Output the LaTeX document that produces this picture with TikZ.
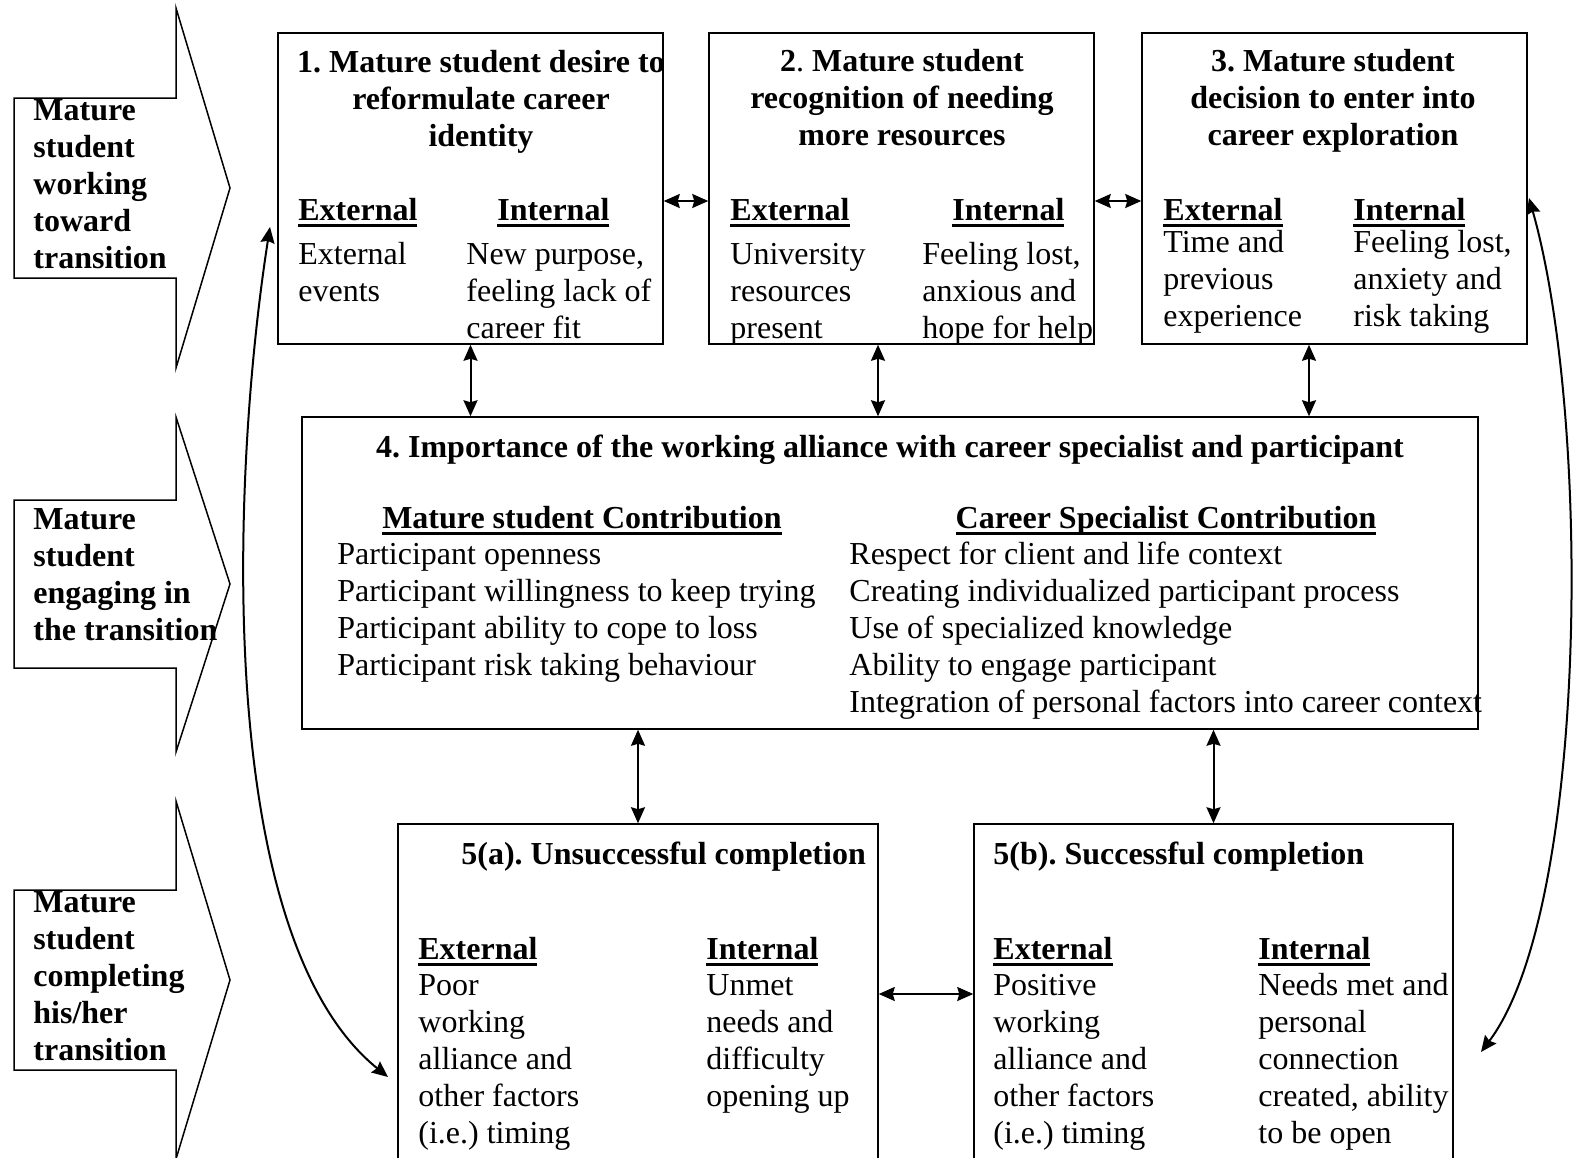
\documentclass[tikz,border=0pt]{standalone}
\usepackage{fontspec}
\setmainfont{Liberation Serif}
\usetikzlibrary{arrows.meta,fit}
\frenchspacing

% left-aligned and centred stacks of lines, first baseline on the anchor
\newcommand\lstack[1]{\begin{tabular}[t]{@{}l@{}}#1\end{tabular}}
\newcommand\cstack[1]{\begin{tabular}[t]{@{}c@{}}#1\end{tabular}}
% heavy underline for column headings
\newcommand\hul[1]{\setbox0\hbox{#1}\rlap{\rule[-3.4pt]{\wd0}{1.3pt}}\box0}

\tikzset{
  txt/.style={inner sep=0pt, font=\fontsize{16}{18.5}\selectfont, anchor=base west},
  bold/.style={txt, font=\fontsize{16}{18.5}\selectfont\bfseries},
  ctitle/.style={bold, anchor=base},
  box/.style={draw, line width=0.75pt, inner sep=0pt},
  blockarrow/.style={draw, line width=0.75pt, line join=miter},
  link/.style={line width=1pt, {Stealth[length=8pt,width=7pt,inset=1pt]}-{Stealth[length=8pt,width=7pt,inset=1pt]}}
}

\begin{document}
\begin{tikzpicture}[x=0.5pt,y=-0.5pt]
\useasboundingbox (0,0) rectangle (1574,1157);
\clip (0,0) rectangle (1574,1157);

% ---- stage arrows on the left ----
\draw[blockarrow] (14,98) -- (176,98) -- (176,8) -- (230,188) -- (176,368) -- (176,278) -- (14,278) -- cycle;
\draw[blockarrow] (14,500) -- (176,500) -- (176,417) -- (230,584) -- (176,752) -- (176,668) -- (14,668) -- cycle;
\draw[blockarrow] (14,890) -- (176,890) -- (176,801) -- (230,980) -- (176,1159) -- (176,1070) -- (14,1070) -- cycle;

\node[bold] (s1) at (33,120) {\lstack{Mature\\student\\working\\toward\\transition}};
\node[bold] (s2) at (33,529) {\lstack{Mature\\student\\engaging in\\the transition}};
\node[bold] (s3) at (33,912) {\lstack{Mature\\student\\completing\\his/her\\transition}};

% ---- boxes ----
\node[box, fit={(278,33) (663,344)}] (b1) {};
\node[box, fit={(709,33) (1094,344)}] (b2) {};
\node[box, fit={(1142,33) (1527,344)}] (b3) {};
\node[box, fit={(302,417) (1478,729)}] (b4) {};
\node[box, fit={(398,824) (878,1190)}] (b5a) {};
\node[box, fit={(974,824) (1453,1190)}] (b5b) {};

% box 1
\node[ctitle] (t1) at (481,72) {\cstack{1. Mature student desire to\\reformulate career\\identity}};
\node[bold] (e1) at (298,220) {\hul{External}};
\node[bold] (i1) at (497,220) {\hul{Internal}};
\node[txt] (e1t) at (298,264) {\lstack{External\\events}};
\node[txt] (i1t) at (466,264) {\lstack{New purpose,\\feeling lack of\\career fit}};

% box 2
\node[ctitle] (t2) at (902,71) {\cstack{2{\mdseries .} Mature student\\recognition of needing\\more resources}};
\node[bold] (e2) at (730,220) {\hul{External}};
\node[bold] (i2) at (952,220) {\hul{Internal}};
\node[txt] (e2t) at (730,264) {\lstack{University\\resources\\present}};
\node[txt] (i2t) at (922,264) {\lstack{Feeling lost,\\anxious and\\hope for help}};

% box 3
\node[ctitle] (t3) at (1333,71) {\cstack{3. Mature student\\decision to enter into\\career exploration}};
\node[bold] (e3) at (1163,220) {\hul{External}};
\node[bold] (i3) at (1353,220) {\hul{Internal}};
\node[txt] (e3t) at (1163,252) {\lstack{Time and\\previous\\experience}};
\node[txt] (i3t) at (1353,252) {\lstack{Feeling lost,\\anxiety and\\risk taking}};

% box 4
\node[ctitle] (t4) at (890,457) {4. Importance of the working alliance with career specialist and participant};
\node[ctitle] (h4a) at (582,528) {\hul{Mature student Contribution}};
\node[ctitle] (h4b) at (1166,528) {\hul{Career Specialist Contribution}};
\node[txt] (l4a) at (337,564) {\lstack{Participant openness\\Participant willingness to keep trying\\Participant ability to cope to loss\\Participant risk taking behaviour}};
\node[txt] (l4b) at (849,564) {\lstack{Respect for client and life context\\Creating individualized participant process\\Use of specialized knowledge\\Ability to engage participant\\Integration of personal factors into career context}};

% box 5(a)
\node[bold] (t5a) at (461,864) {5(a). Unsuccessful completion};
\node[bold] (e5a) at (418,959) {\hul{External}};
\node[bold] (i5a) at (706,959) {\hul{Internal}};
\node[txt] (e5at) at (418,995) {\lstack{Poor\\working\\alliance and\\other factors\\(i.e.) timing}};
\node[txt] (i5at) at (706,995) {\lstack{Unmet\\needs and\\difficulty\\opening up}};

% box 5(b)
\node[bold] (t5b) at (993,864) {5(b). Successful completion};
\node[bold] (e5b) at (993,959) {\hul{External}};
\node[bold] (i5b) at (1258,959) {\hul{Internal}};
\node[txt] (e5bt) at (993,995) {\lstack{Positive\\working\\alliance and\\other factors\\(i.e.) timing}};
\node[txt] (i5bt) at (1258,995) {\lstack{Needs met and\\personal\\connection\\created, ability\\to be open}};

% ---- connectors ----
\coordinate (row1) at (0,201);
\coordinate (row5) at (0,994);
\coordinate (col2) at (878,0);
\coordinate (col3) at (1309,0);

\draw[link] (b1.east |- row1) -- (b2.west |- row1);
\draw[link] (b2.east |- row1) -- (b3.west |- row1);
\draw[link] (b1.south) -- (b1.south |- b4.north);
\draw[link] (b2.south -| col2) -- (b4.north -| col2);
\draw[link] (b3.south -| col3) -- (b4.north -| col3);
\draw[link] (b4.south -| b5a.north) -- (b5a.north);
\draw[link] (b4.south -| b5b.north) -- (b5b.north);
\draw[link] (b5a.east |- row5) -- (b5b.west |- row5);

% long return loops
\coordinate (la) at (270,227);
\coordinate (lb) at (388,1077);
\coordinate (ra) at (1529,198);
\coordinate (rb) at (1481,1052);
\draw[link] (la) .. controls (232,470) and (212,935) .. (lb);
\draw[link] (ra) .. controls (1592,420) and (1588,910) .. (rb);

\end{tikzpicture}
\end{document}
